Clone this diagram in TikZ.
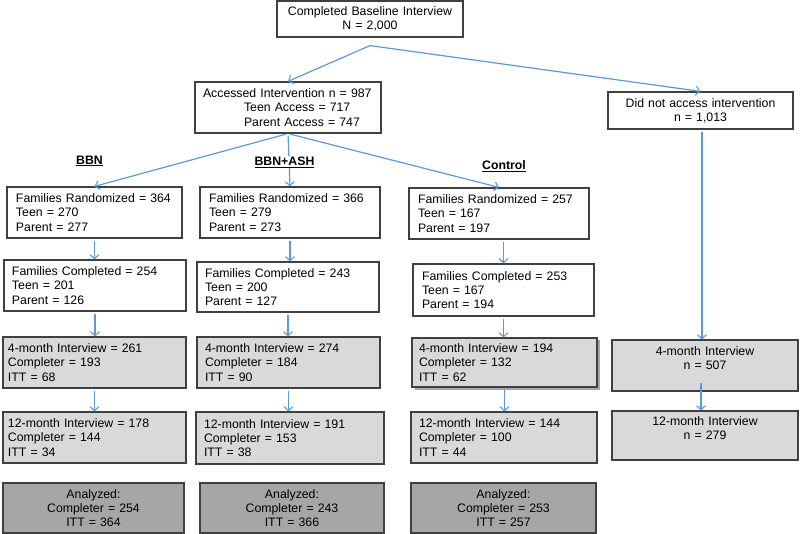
\documentclass[tikz,border=0pt]{standalone}
\usepackage{fontspec}
\setmainfont{Liberation Sans}
\usetikzlibrary{arrows.meta,shadows}
\definecolor{arrowblue}{HTML}{5B9BD5}
\definecolor{boxline}{HTML}{404040}
\definecolor{lightfill}{HTML}{D9D9D9}
\definecolor{darkfill}{HTML}{A6A6A6}
\newcommand{\fbx}[8]{%
 \pgfmathsetmacro{\fbxw}{#6-#4}%
 \pgfmathsetmacro{\fbxh}{#7-#5}%
 \pgfmathsetmacro{\fbxtw}{#6-#4-2*#3}%
 \pgfmathsetmacro{\fbxcx}{(#4+#6)/2}%
 \pgfmathsetmacro{\fbxcy}{(#5+#7)/2}%
 \node[box,#2,inner xsep=#3pt,minimum width=\fbxw pt,minimum height=\fbxh pt,text width=\fbxtw pt] (#1) at (\fbxcx,\fbxcy) {#8};%
}
\tikzset{
 box/.style={draw=boxline,line width=1.2pt,fill=white,inner ysep=2pt,font=\fontsize{12.3}{14.2}\selectfont},
 lft/.style={align=left},
 ctr/.style={align=center},
 grey/.style={fill=lightfill},
 dark/.style={fill=darkfill},
 lbl/.style={font=\fontsize{12.3}{14.2}\selectfont\bfseries,fill=white,inner sep=1pt},
 arr/.style={draw=arrowblue,line width=1.2pt,shorten <=2pt,-{Straight Barb[length=4pt,width=9pt,line width=1.1pt]}}
}
\begin{document}
\begin{tikzpicture}[x=1pt,y=-1pt]
\useasboundingbox[fill=white] (0,0) rectangle (800,534);
% top level
\fbx{top}{ctr}{8}{277}{1}{463}{37}{Completed Baseline Interview\\N = 2,000}
\fbx{acc}{lft}{8}{195}{82}{381}{133}{Accessed Intervention n = 987\\\hspace*{41pt}Teen Access = 717\\\hspace*{41pt}Parent Access = 747}
\fbx{dna}{ctr}{8}{608}{92}{793}{129}{Did not access intervention\\n = 1,013}
% randomized
\fbx{r1}{lft}{9}{7}{187}{182}{238}{Families Randomized = 364\\Teen = 270\\Parent = 277}
\fbx{r2}{lft}{9}{200}{187}{380}{238}{Families Randomized = 366\\Teen = 279\\Parent = 273}
\fbx{r3}{lft}{9}{409}{188}{589}{239}{Families Randomized = 257\\Teen = 167\\Parent = 197}
% completed
\fbx{c1}{lft}{8}{4}{260}{186}{311}{Families Completed = 254\\Teen = 201\\Parent = 126}
\fbx{c2}{lft}{8}{197}{262}{379}{312}{Families Completed = 243\\Teen = 200\\Parent = 127}
\fbx{c3}{lft}{9}{413}{264}{594}{316}{Families Completed = 253\\Teen = 167\\Parent = 194}
% 4-month
\fbx{f1}{lft,grey}{5}{3}{337}{186}{388}{4-month Interview = 261\\Completer = 193\\ITT = 68}
\fbx{f2}{lft,grey}{8}{197}{337}{380}{388}{4-month Interview = 274\\Completer = 184\\ITT = 90}
\fbx{f3}{lft,grey,drop shadow={shadow xshift=2.5pt,shadow yshift=-2.5pt,fill=black,opacity=0.35}}{7}{412}{338}{597}{387}{4-month Interview = 194\\Completer = 132\\ITT = 62}
\fbx{f4}{ctr,grey}{8}{612}{340}{798}{391}{4-month Interview\\n = 507\\\mbox{}}
% 12-month
\fbx{t1}{lft,grey}{5}{3}{412}{186}{463}{12-month Interview = 178\\Completer = 144\\ITT = 34}
\fbx{t2}{lft,grey}{8}{196}{412}{384}{464}{12-month Interview = 191\\Completer = 153\\ITT = 38}
\fbx{t3}{lft,grey}{8}{411}{412}{597}{463}{12-month Interview = 144\\Completer = 100\\ITT = 44}
\fbx{t4}{ctr,grey}{8}{612}{411}{798}{460}{12-month Interview\\n = 279\\\mbox{}}
% analyzed
\fbx{a1}{ctr,dark}{8}{3}{483}{184}{533}{Analyzed:\\Completer = 254\\ITT = 364}
\fbx{a2}{ctr,dark}{8}{200}{483}{384}{533}{Analyzed:\\Completer = 243\\ITT = 366}
\fbx{a3}{ctr,dark}{8}{411}{483}{596}{533}{Analyzed:\\Completer = 253\\ITT = 257}
% connectors
\coordinate (s0) at ([yshift=-8pt]top.south);
\draw[arr,shorten <=0pt] (s0) -- (acc.north);
\draw[arr,shorten <=0pt] (s0) -- (dna.north);
\draw[arr] (acc.south) -- (r1.north);
\draw[arr] (acc.south) -- (r2.north);
\draw[arr] (acc.south) -- (r3.north);
\draw[arr] (r1.south) -- (r1.south |- c1.north);
\draw[arr] (r2.south) -- (r2.south |- c2.north);
\draw[arr] (c3.north |- r3.south) -- (c3.north);
\draw[arr] (c1.south) -- (c1.south |- f1.north);
\draw[arr] (c2.south) -- (c2.south |- f2.north);
\draw[arr] (c3.south) -- (c3.south |- f3.north);
\draw[arr] (f1.south) -- (f1.south |- t1.north);
\draw[arr] (f2.south) -- (f2.south |- t2.north);
\draw[arr] (f3.south) -- (f3.south |- t3.north);
\draw[arr] ([xshift=1.5pt]dna.south) -- ([xshift=1.5pt]dna.south |- f4.north);
\draw[arr,shorten <=0pt] ([xshift=-4pt,yshift=9pt]f4.south) -- ([xshift=-4pt]f4.south |- t4.north);
% group labels
\node[lbl] (lbbn) at (89.5,161) {\underline{BBN}};
\node[lbl] (lash) at (284.5,162) {\underline{BBN+ASH}};
\node[lbl] (lctl) at (504,166) {\underline{Control}};
\end{tikzpicture}
\end{document}
